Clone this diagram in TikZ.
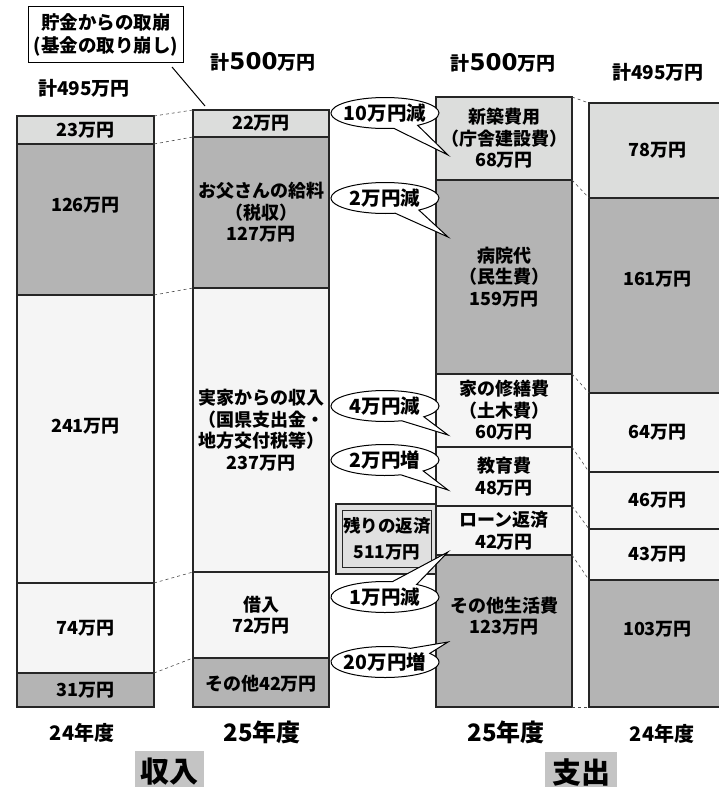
\documentclass[tikz,border=0pt]{standalone}
\usepackage{fontspec}
\newfontfamily\jp{Noto Sans CJK JP}
\newfontfamily\numf{DejaVu Sans}
\usetikzlibrary{shapes.callouts,shapes.geometric}
\definecolor{cL}{HTML}{DCDDDC}
\definecolor{cD}{HTML}{B4B4B4}
\definecolor{cP}{HTML}{F5F5F5}
\definecolor{cBox}{HTML}{E0E0E0}
\definecolor{cTag}{HTML}{C4C4C4}
\tikzset{
  seg/.style={draw=black!85, line width=1.2pt, inner sep=0pt, outer sep=0pt,
    anchor=north west, align=center,
    font=\jp\bfseries\fontsize{18}{21.5}\selectfont},
  conn/.style={draw=black!70, dashed, line width=0.6pt},
  lbl/.style={inner sep=0pt, font=\jp\bfseries\fontsize{19}{21}\selectfont},
  bubble/.style={ellipse callout, draw=black, line width=1pt, fill=white,
    minimum width=108pt, minimum height=31pt, inner xsep=-12pt, inner ysep=-5pt,
    callout pointer arc=28,
    font=\jp\bfseries\fontsize{19.5}{21}\selectfont},
  tag/.style={fill=cTag, inner sep=0pt, anchor=north west,
    font=\jp\bfseries\fontsize{29}{30}\selectfont}
}
\begin{document}
\begin{tikzpicture}[x=1pt,y=-1pt]
\path[use as bounding box] (0,0) rectangle (719,787);
\clip (0,0) rectangle (719,787);
\fill[white] (0,0) rectangle (719,787);

% ---- income 24
\node[seg, fill=cL, minimum width=137pt, minimum height=28pt]  (a1) at (17,116) {23万円};
\node[seg, fill=cD, minimum width=137pt, minimum height=151pt] (a2) at (17,144) {126万円\\[8pt]};
\node[seg, fill=cP, minimum width=137pt, minimum height=288pt] (a3) at (17,295) {241万円\\[6pt]};
\node[seg, fill=cP, minimum width=137pt, minimum height=90pt]  (a4) at (17,583) {74万円};
\node[seg, fill=cD, minimum width=137pt, minimum height=34pt]  (a5) at (17,673) {31万円};

% ---- income 25
\node[seg, fill=cL, minimum width=136pt, minimum height=27pt]  (b1) at (193,110) {22万円};
\node[seg, fill=cD, minimum width=136pt, minimum height=151pt] (b2) at (193,137) {お父さんの給料\\（税収）\\127万円};
\node[seg, fill=cP, minimum width=136pt, minimum height=284pt] (b3) at (193,288) {実家からの収入\\（国県支出金・\\地方交付税等）\\237万円};
\node[seg, fill=cP, minimum width=136pt, minimum height=86pt]  (b4) at (193,572) {借入\\72万円};
\node[seg, fill=cD, minimum width=136pt, minimum height=49pt]  (b5) at (193,658) {\\[-4pt]その他42万円};

% ---- expense 25
\node[seg, fill=cL, minimum width=136pt, minimum height=83pt]  (c1) at (436,97)  {新築費用\\（庁舎建設費）\\68万円};
\node[seg, fill=cD, minimum width=136pt, minimum height=194pt] (c2) at (436,180) {病院代\\（民生費）\\159万円};
\node[seg, fill=cP, minimum width=136pt, minimum height=73pt]  (c3) at (436,374) {家の修繕費\\（土木費）\\60万円};
\node[seg, fill=cP, minimum width=136pt, minimum height=59pt]  (c4) at (436,447) {教育費\\48万円};
\node[seg, fill=cP, minimum width=136pt, minimum height=49pt]  (c5) at (436,506) {ローン返済\\42万円};
\node[seg, fill=cD, minimum width=136pt, minimum height=152pt] (c6) at (436,555) {その他生活費\\123万円\\[10pt]};

% ---- expense 24
\node[seg, fill=cL, minimum width=137pt, minimum height=95pt]  (d1) at (589,103) {78万円};
\node[seg, fill=cD, minimum width=137pt, minimum height=195pt] (d2) at (589,198) {161万円\\[12pt]};
\node[seg, fill=cP, minimum width=137pt, minimum height=79pt]  (d3) at (589,393) {64万円};
\node[seg, fill=cP, minimum width=137pt, minimum height=57pt]  (d4) at (589,472) {46万円};
\node[seg, fill=cP, minimum width=137pt, minimum height=51pt]  (d5) at (589,529) {43万円};
\node[seg, fill=cD, minimum width=137pt, minimum height=127pt] (d6) at (589,580) {103万円\\[8pt]};

% ---- dashed connectors
\draw[conn] (a1.north east) -- (b1.north west);
\draw[conn] (a2.north east) -- (b2.north west);
\draw[conn] (a3.north east) -- (b3.north west);
\draw[conn] (a4.north east) -- (b4.north west);
\draw[conn] (a5.north east) -- (b5.north west);
\draw[conn] (c1.north east) -- (d1.north west);
\draw[conn] (c2.north east) -- (d2.north west);
\draw[conn] (c3.north east) -- (d3.north west);
\draw[conn] (c4.north east) -- (d4.north west);
\draw[conn] (c5.north east) -- (d5.north west);
\draw[conn] (c6.north east) -- (d6.north west);
\draw[conn] (c6.south east) -- (d6.south west);

% ---- totals
\node[lbl] (t1) at (84,88) {計495万円};
\node[lbl] (t2) at (263,62) {計{\numf\bfseries\fontsize{23}{24}\selectfont 500}万円};
\node[lbl] (t3) at (503,63) {計{\numf\bfseries\fontsize{23}{24}\selectfont 500}万円};
\node[lbl] (t4) at (658,72) {計495万円};

% ---- savings box
\node[draw=black, line width=1.1pt, fill=white, minimum width=155pt, minimum height=56pt,
  inner sep=0pt, align=center, anchor=north west,
  font=\jp\bfseries\fontsize{18.5}{23}\selectfont] (sv) at (28,6) {貯金からの取崩\\(基金の取り崩し)};
\coordinate (q1) at (172,67);
\coordinate (q2) at (205,106);
\draw[line width=1pt] (q1) -- (q2);

% ---- remaining loan box
\node[draw=black!85, line width=1.5pt, fill=cBox, minimum width=100pt, minimum height=70pt,
  inner sep=0pt, anchor=north west] (r0) at (335,503) {};
\node[draw=black!85, line width=1pt, fill=cBox, minimum width=89pt, minimum height=57pt,
  inner sep=0pt, align=center, anchor=north west,
  font=\jp\bfseries\fontsize{17.5}{26}\selectfont] (r1) at (342,510) {残りの返済\\511万円};

% ---- callouts
\coordinate (p1) at (448,155);
\coordinate (p2) at (448,237);
\coordinate (p3) at (448,435);
\coordinate (p4) at (448,490);
\coordinate (p5) at (448,552);
\coordinate (p6) at (448,642);
\node[bubble, callout absolute pointer=(p1)] (e1) at (385,113) {10万円減};
\node[bubble, callout absolute pointer=(p2)] (e2) at (385,198) {2万円減};
\node[bubble, callout absolute pointer=(p3)] (e3) at (385,406) {4万円減};
\node[bubble, callout absolute pointer=(p4)] (e4) at (385,460) {2万円増};
\node[bubble, callout absolute pointer=(p5)] (e5) at (385,597) {1万円減};
\node[bubble, callout absolute pointer=(p6)] (e6) at (385,662) {20万円増};

% ---- year labels
\node[lbl, font=\jp\bfseries\fontsize{20}{22}\selectfont] (y1) at (82,733) {24年度};
\node[lbl, font=\jp\bfseries\fontsize{24}{26}\selectfont] (y2) at (262,732) {25年度};
\node[lbl, font=\jp\bfseries\fontsize{24}{26}\selectfont] (y3) at (506,732) {25年度};
\node[lbl, font=\jp\bfseries\fontsize{20}{22}\selectfont] (y4) at (662,734) {24年度};

% ---- section tags
\node[tag, minimum width=69pt, minimum height=40pt] (g1) at (135,751) {収入};
\node[tag, minimum width=72pt, minimum height=40pt] (g2) at (545,752) {支出};
\end{tikzpicture}
\end{document}
